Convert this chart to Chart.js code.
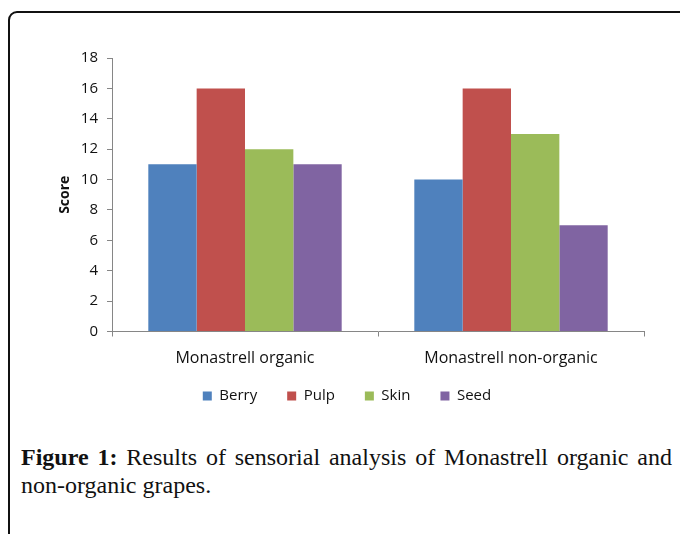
<!DOCTYPE html>
<html>
<head>
<meta charset="utf-8">
<script src="https://cdn.jsdelivr.net/npm/chart.js@4.4.1/dist/chart.umd.min.js"></script>
<style>
  body { margin: 0; background: #fff; }
  #frame {
    position: absolute; left: 8px; top: 11px; width: 700px; height: 600px;
    border: 2px solid #111; border-top-left-radius: 9px;
  }
  #chartBox { position: absolute; left: 0; top: 0; }
  #caption {
    position: absolute; left: 21px; top: 443px; width: 651px;
    font-family: "Liberation Serif", serif; font-size: 24px; line-height: 28px;
    text-align: justify; color: #111;
  }
</style>
</head>
<body>
<div id="frame"></div>
<div id="chartBox"><canvas id="myCanvas" width="680" height="440"></canvas></div>
<div id="caption"><b>Figure 1:</b> Results of sensorial analysis of Monastrell organic and non-organic grapes.</div>
<script>
const categories = ['Monastrell organic', 'Monastrell non-organic'];
const berry = [11, 10];
const pulp = [16, 16];
const skin = [12, 13];
const seed = [11, 7];
const yTicks = [0, 2, 4, 6, 8, 10, 12, 14, 16, 18];

const axisGray = '#868686';
const fontFamily = '"Open Sans", sans-serif';

// pull the legend up, the wide item padding also pads it vertically
const legendShift = {
  id: 'legendShift',
  afterLayout(chart) {
    chart.legend.top -= 10;
    chart.legend.bottom -= 10;
  },
};

const ctx = document.getElementById('myCanvas');
new Chart(ctx, {
  type: 'bar',
  data: {
    labels: categories,
    datasets: [
      { label: 'Berry', data: berry, backgroundColor: '#4F81BD' },
      { label: 'Pulp', data: pulp, backgroundColor: '#C0504D' },
      { label: 'Skin', data: skin, backgroundColor: '#9BBB59' },
      { label: 'Seed', data: seed, backgroundColor: '#8064A2' },
    ],
  },
  plugins: [legendShift],
  options: {
    responsive: false,
    animation: false,
    devicePixelRatio: 1,
    categoryPercentage: 0.727,
    barPercentage: 1.0,
    layout: { padding: { left: 50, right: 36, top: 58, bottom: 16.5 } },
    plugins: {
      tooltip: { enabled: false },
      legend: {
        position: 'bottom',
        labels: {
          boxWidth: 9,
          boxHeight: 9,
          padding: 30,
          color: '#111',
          font: { family: fontFamily, size: 15 },
        },
      },
    },
    scales: {
      x: {
        grid: { drawOnChartArea: false, tickLength: 5, color: axisGray },
        border: { color: axisGray },
        ticks: { color: '#111', font: { family: fontFamily, size: 16 }, padding: 12 },
        afterFit: (s) => { s.height = 37; },
      },
      y: {
        min: 0,
        max: 18,
        afterBuildTicks: (s) => { s.ticks = yTicks.map((v) => ({ value: v })); },
        grid: { drawOnChartArea: false, tickLength: 5, color: axisGray },
        border: { color: axisGray },
        ticks: { color: '#111', font: { family: fontFamily, size: 15 }, padding: 9 },
        title: {
          display: true,
          text: 'Score',
          color: '#111',
          font: { family: fontFamily, size: 14, weight: 'bold' },
          padding: { top: 7, bottom: 0 },
        },
        afterFit: (s) => { s.width = 62; },
      },
    },
  },
});
</script>
</body>
</html>
